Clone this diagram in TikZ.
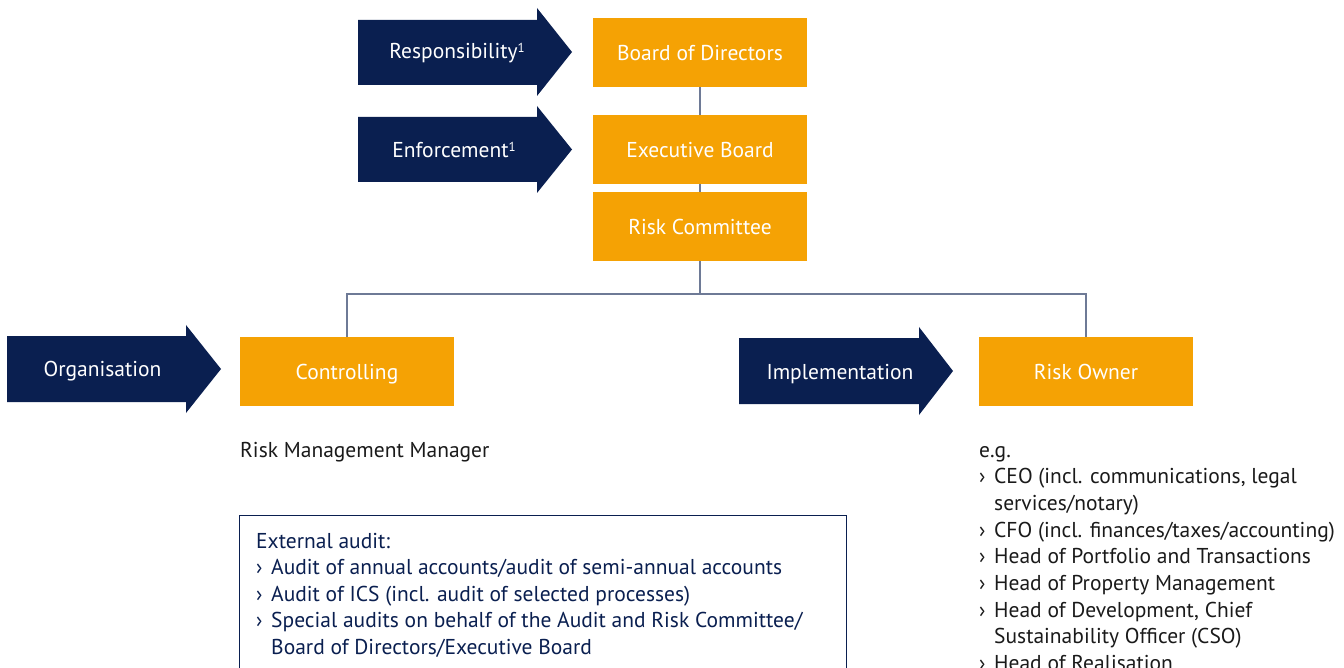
\documentclass[tikz,border=0pt]{standalone}
\usepackage{fontspec}
\setmainfont{PT Sans}
\definecolor{orng}{HTML}{F5A204}
\definecolor{navy}{HTML}{0A1F50}
\definecolor{connc}{HTML}{6E7A96}
\definecolor{txt}{HTML}{1A1A1A}
\newcommand{\supone}{\raisebox{6pt}{\fontsize{13}{13}\selectfont 1}}
\begin{document}
\begin{tikzpicture}[x=1pt,y=-1pt,
  orangebox/.style={fill=orng, text=white, minimum width=214pt, minimum height=69pt, inner sep=0pt, text height=16pt, text depth=0pt, font=\fontsize{21.5}{24}\selectfont},
  arrowtext/.style={text=white, inner sep=0pt, text height=16pt, text depth=0pt, font=\fontsize{21.5}{24}\selectfont},
  navyarrow/.style={fill=navy},
  conn/.style={draw=connc, line width=1.5pt},
  listline/.style={anchor=base west, inner sep=0pt, font=\fontsize{21.5}{24}\selectfont},
  bul/.style={listline}]
\useasboundingbox (0,0) rectangle (1344,668);

% orange boxes
\node[orangebox] (bod) at (700,52.5) {Board of Directors};
\node[orangebox] (eb) at (700,149.5) {Executive Board};
\node[orangebox] (rc) at (700,226.5) {Risk Committee};
\node[orangebox] (ctrl) at (347,371.5) {Controlling};
\node[orangebox] (ro) at (1086,371.5) {Risk Owner};

% connectors
\draw[conn] (bod.south) -- (eb.north);
\draw[conn] (eb.south) -- (rc.north);
\coordinate (split) at (700,294);
\draw[conn] (rc.south) -- (split) -| (ctrl.north);
\draw[conn] (split) -| (ro.north);

% navy arrows
\fill[navyarrow] (358,20) -- (537,20) -- (537,8) -- (572,52) -- (537,96) -- (537,85) -- (358,85) -- cycle;
\node[arrowtext] (resp) at (457,50.3) {Responsibility\supone};
\fill[navyarrow] (358,117) -- (537,117) -- (537,106) -- (572,149.5) -- (537,193) -- (537,182) -- (358,182) -- cycle;
\node[arrowtext] (enf) at (454,149.3) {Enforcement\supone};
\fill[navyarrow] (7,336) -- (186,336) -- (186,325) -- (221,369) -- (186,413) -- (186,402) -- (7,402) -- cycle;
\node[arrowtext] (org) at (102.5,368.7) {Organisation};
\fill[navyarrow] (739,338) -- (919,338) -- (919,327) -- (953,371) -- (919,415) -- (919,404) -- (739,404) -- cycle;
\node[arrowtext] (impl) at (840,371.3) {Implementation};

% Risk management manager
\node[listline, text=txt] (rmm) at (240,457) {Risk Management Manager};

% audit box
\node[draw=navy, line width=1.2pt, anchor=north west, minimum width=607pt, minimum height=200pt, inner sep=0pt] (audit) at (239,515) {};
\node[listline, text=navy] (a0) at (256,548) {External audit:};
\foreach \t [count=\i] in {{Audit of annual accounts/audit of semi-annual accounts},
  {Audit of ICS (incl. audit of selected processes)},
  {Special audits on behalf of the Audit and Risk Committee/}} {
  \node[bul, text=navy] (ab\i) at (256,548+26.5*\i) {›};
  \node[listline, text=navy] (a\i) at (271,548+26.5*\i) {\t};
}
\node[listline, text=navy] (a4) at (271,654) {Board of Directors/Executive Board};

% risk owner list
\node[listline, text=txt] (eg) at (979,457.3) {e.g.};
\foreach \t/\b [count=\i] in {{CEO (incl. communications, legal}/1,
  {services/notary)}/0,
  {CFO (incl. finances/taxes/accounting)}/1,
  {Head of Portfolio and Transactions}/1,
  {Head of Property Management}/1,
  {Head of Development, Chief}/1,
  {Sustainability Officer (CSO)}/0,
  {Head of Realisation}/1} {
  \ifnum\b=1 \node[bul, text=txt] (rb\i) at (979,457.3+26.67*\i) {›};\fi
  \node[listline, text=txt] (r\i) at (994,457.3+26.67*\i) {\t};
}
\end{tikzpicture}
\end{document}
